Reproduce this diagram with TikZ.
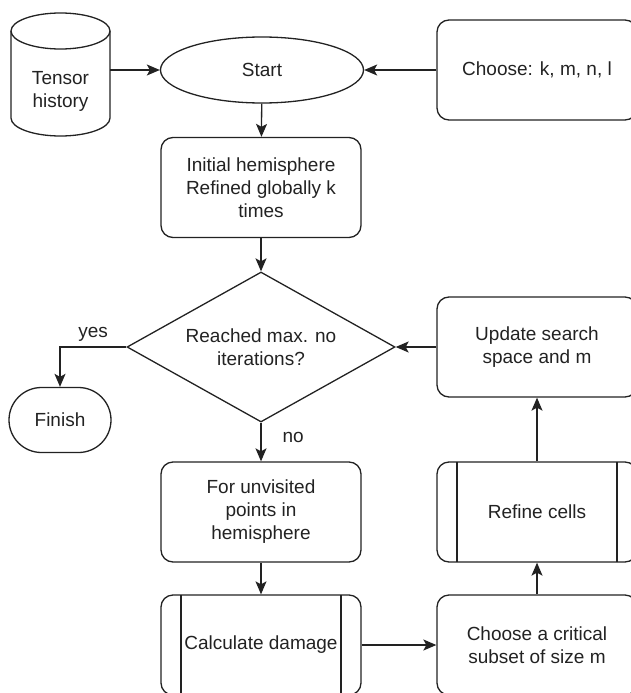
\documentclass[tikz,border=0pt]{standalone}
\usepackage{fontspec}
\setmainfont{Liberation Sans}
\usetikzlibrary{shapes.geometric, shapes.misc, arrows.meta}

\definecolor{ink}{HTML}{222222}

\tikzset{
    base/.style={draw=ink, line width=1.3pt, text=ink, align=center, inner sep=0pt,
        font=\fontsize{19}{23}\selectfont},
    roundbox/.style={base, rectangle, rounded corners=12pt, minimum width=200pt, minimum height=100pt},
    procbox/.style={roundbox, path picture={
        \draw[ink, line width=1.3pt] ([xshift=20pt]path picture bounding box.north west)
            -- ([xshift=20pt]path picture bounding box.south west);
        \draw[ink, line width=1.3pt] ([xshift=-20pt]path picture bounding box.north east)
            -- ([xshift=-20pt]path picture bounding box.south east);}},
    flow/.style={draw=ink, line width=1.3pt, -{Stealth[length=13pt, width=11pt, inset=3pt]}},
    lbl/.style={text=ink, inner sep=0pt, font=\fontsize{19}{23}\selectfont},
}

\begin{document}
\begin{tikzpicture}[x=1pt, y=-1pt]
    \clip (0,0) rectangle (631,693);
    % top row
    \draw[ink, line width=1.3pt] (11,31) -- (11,118)
        arc[start angle=180, end angle=360, x radius=49.5pt, y radius=18pt] -- (110,31);
    \draw[ink, line width=1.3pt] (60.5,31) ellipse[x radius=49.5pt, y radius=18pt];
    \node[lbl, align=center, minimum width=99pt] (hist) at (60.5,91) {Tensor\\history};
    \node[base, ellipse, minimum width=203pt, minimum height=66pt] (start) at (262,70) {Start};
    \node[roundbox] (choose) at (537,70) {Choose: k, m, n, l};
    % left column
    \node[roundbox] (init) at (261,187.5) {Initial hemisphere\\Refined globally k\\times};
    \node[base, diamond, aspect=1.79, minimum width=268pt, minimum height=150pt] (reach) at (261,347) {Reached max. no\\iterations?};
    \node[base, rounded rectangle, minimum width=102pt, minimum height=65pt] (finish) at (60,420) {Finish};
    \node[roundbox] (unvis) at (261,512) {For unvisited\\points in\\hemisphere};
    \node[procbox] (calc) at (261,645) {Calculate damage};
    % right column
    \node[roundbox] (crit) at (537,645) {Choose a critical\\subset of size m};
    \node[procbox] (refine) at (537,512) {Refine cells};
    \node[roundbox] (update) at (537,347) {Update search\\space and m};

    \draw[flow] (hist.east |- start.west) -- (start.west);
    \draw[flow] (choose) -- (start);
    \draw[flow] (start) -- (init);
    \draw[flow] (init) -- (reach);
    \draw[flow] (reach.west) -| (finish) node[lbl, pos=0.25, above=5pt] {yes};
    \draw[flow] (reach) -- (unvis) node[lbl, pos=0.38, right=21pt] {no};
    \draw[flow] (unvis) -- (calc);
    \draw[flow] (calc) -- (crit);
    \draw[flow] (crit) -- (refine);
    \draw[flow] (refine) -- (update);
    \draw[flow] (update) -- (reach);
\end{tikzpicture}
\end{document}
